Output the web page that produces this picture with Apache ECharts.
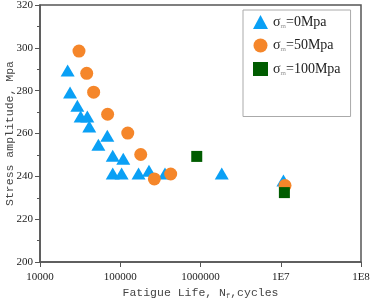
<!DOCTYPE html>
<html>
<head>
<meta charset="utf-8">
<script src="https://cdn.jsdelivr.net/npm/echarts@6/dist/echarts.min.js"></script>
<style>
  html, body { margin: 0; padding: 0; background: #fff; }
  #chart { width: 370px; height: 303px; }
</style>
</head>
<body>
<div id="chart"></div>
<script>
// fatigue life (cycles) and stress amplitude (MPa)
var life0 = [22100, 23700, 29200, 32100, 38900, 41100, 69000, 53400, 80600, 109000, 80600, 104000, 169000, 228000, 361000, 1840000, 10800000];
var stress0 = [289.4, 279.2, 273, 267.9, 267.9, 263.3, 259, 254.7, 249.6, 248.2, 241.3, 241.3, 241.3, 242.6, 241.3, 241.3, 238.1];

var life50 = [30600, 38200, 46600, 69600, 124000, 180000, 266000, 425000, 11300000];
var stress50 = [298.5, 288.1, 279.3, 269, 260.2, 250.2, 238.8, 241.1, 235.7];

var life100 = [898000, 11100000];
var stress100 = [249.3, 232.4];

var seriesNames = ['0Mpa', '50Mpa', '100Mpa'];

function pairs(xs, ys) {
  var out = [];
  for (var i = 0; i < xs.length; i++) out.push([xs[i], ys[i]]);
  return out;
}

var serif = '"Liberation Serif", "DejaVu Serif", serif';
var mono = '"Liberation Mono", monospace';

var chart = echarts.init(document.getElementById('chart'));

chart.setOption({
  animation: false,
  backgroundColor: '#ffffff',
  grid: {
    left: 40, right: 9, top: 5, bottom: 41,
    outerBoundsMode: 'none',
    containLabel: false,
    show: true, borderColor: '#555', borderWidth: 1.5
  },
  legend: {
    orient: 'vertical',
    left: 243, top: 10,
    padding: [5, 10, 40, 10],
    itemGap: 9,
    itemWidth: 15, itemHeight: 14,
    borderColor: '#aaa', borderWidth: 1,
    formatter: function (name) { return '{a|σ}{s|m}{a|=' + name + '}'; },
    textStyle: {
      rich: {
        a: { fontFamily: serif, fontSize: 14, color: '#222' },
        s: { fontFamily: serif, fontSize: 7, color: '#999', padding: [8, 0, 0, 0] }
      }
    },
    data: [
      { name: '0Mpa', icon: 'triangle' },
      { name: '50Mpa', icon: 'circle' },
      { name: '100Mpa', icon: 'rect' }
    ]
  },
  xAxis: {
    type: 'log',
    logBase: 10,
    min: 10000,
    max: 100000000,
    name: '{t|Fatigue Life, N}{s|f}{t|,cycles}',
    nameLocation: 'middle',
    nameGap: 24,
    nameMoveOverlap: false,
    nameTextStyle: {
      rich: {
        t: { fontFamily: mono, fontSize: 11.5, color: '#444' },
        s: { fontFamily: mono, fontSize: 7, color: '#444', padding: [7, 0, 0, 0] }
      }
    },
    axisLine: { lineStyle: { color: '#555', width: 1.5 } },
    axisTick: { show: true, inside: false, length: 5, lineStyle: { color: '#555' } },
    splitLine: { show: false },
    axisLabel: {
      fontFamily: serif, fontSize: 11, color: '#222', margin: 10,
      formatter: function (v) {
        var p = Math.round(Math.log10(v));
        return p >= 7 ? '1E' + p : String(Math.round(v));
      }
    }
  },
  yAxis: {
    type: 'value',
    min: 200,
    max: 320,
    interval: 20,
    name: 'Stress amplitude, Mpa',
    nameLocation: 'middle',
    nameGap: 24,
    nameMoveOverlap: false,
    nameTextStyle: { fontFamily: mono, fontSize: 11.5, color: '#444' },
    axisLine: { show: true, lineStyle: { color: '#555', width: 1.5 } },
    axisTick: { show: true, inside: false, length: 5, lineStyle: { color: '#555' } },
    minorTick: { show: true, splitNumber: 2, length: 3, lineStyle: { color: '#555' } },
    splitLine: { show: false },
    axisLabel: { fontFamily: serif, fontSize: 11, color: '#222', margin: 7 }
  },
  series: [
    {
      name: seriesNames[0], type: 'scatter', symbol: 'triangle', symbolSize: [14, 12],
      itemStyle: { color: '#0aa0f5', opacity: 1 },
      data: pairs(life0, stress0)
    },
    {
      name: seriesNames[1], type: 'scatter', symbol: 'circle', symbolSize: 13,
      itemStyle: { color: '#f5862a', opacity: 1 },
      data: pairs(life50, stress50)
    },
    {
      name: seriesNames[2], type: 'scatter', symbol: 'rect', symbolSize: 11,
      itemStyle: { color: '#005c00', opacity: 1 },
      data: pairs(life100, stress100)
    }
  ]
});
</script>
</body>
</html>
